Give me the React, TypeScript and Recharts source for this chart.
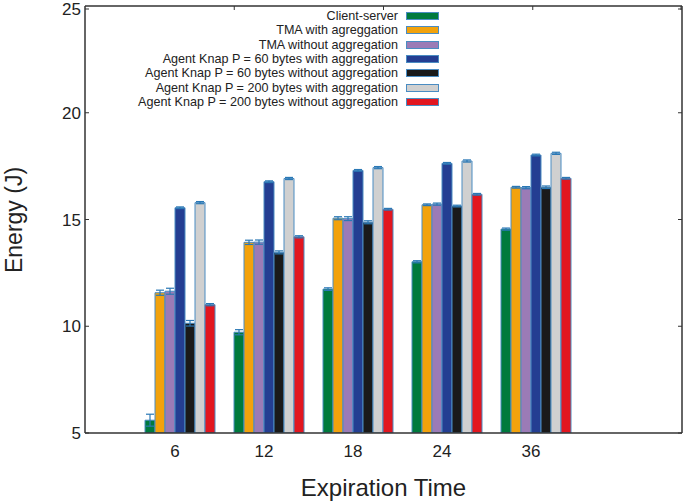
import React from "react";
import { Bar, BarChart, ErrorBar, Legend, XAxis, YAxis } from "recharts";

const categories = ["6", "12", "18", "24", "36"];

const clientServer = [5.6, 9.72, 11.74, 13.02, 14.55];
const tmaAgg = [11.57, 13.93, 15.06, 15.69, 16.51];
const tmaNoAgg = [11.64, 13.94, 15.04, 15.72, 16.49];
const knap60Agg = [15.55, 16.77, 17.3, 17.63, 18.02];
const knap60NoAgg = [10.14, 13.46, 14.87, 15.63, 16.51];
const knap200Agg = [15.79, 16.92, 17.43, 17.74, 18.1];
const knap200NoAgg = [11.01, 14.19, 15.48, 16.18, 16.93];

const clientServerErr = [0.28, 0.12, 0.06, 0.05, 0.05];
const tmaAggErr = [0.12, 0.1, 0.07, 0.04, 0.04];
const tmaNoAggErr = [0.14, 0.1, 0.09, 0.05, 0.05];
const knap60AggErr = [0.04, 0.04, 0.04, 0.04, 0.04];
const knap60NoAggErr = [0.13, 0.07, 0.07, 0.04, 0.06];
const knap200AggErr = [0.05, 0.05, 0.05, 0.05, 0.05];
const knap200NoAggErr = [0.05, 0.05, 0.04, 0.04, 0.04];

const yTicks = [5, 10, 15, 20, 25];
const topTicks = [1, 2, 3, 4, 5];

const series = [
  { key: "cs", name: "Client-server", values: clientServer, err: clientServerErr, color: "#007a3d" },
  { key: "tmaA", name: "TMA with agreggation", values: tmaAgg, err: tmaAggErr, color: "#f2a20c" },
  { key: "tmaN", name: "TMA without aggregation", values: tmaNoAgg, err: tmaNoAggErr, color: "#9b7bb6" },
  { key: "k60A", name: "Agent Knap P = 60 bytes with aggregation", values: knap60Agg, err: knap60AggErr, color: "#243e92" },
  { key: "k60N", name: "Agent Knap P = 60 bytes without aggregation", values: knap60NoAgg, err: knap60NoAggErr, color: "#1a1a1a" },
  { key: "k200A", name: "Agent Knap P = 200 bytes with aggregation", values: knap200Agg, err: knap200AggErr, color: "#d0d0d0" },
  { key: "k200N", name: "Agent Knap P = 200 bytes without aggregation", values: knap200NoAgg, err: knap200NoAggErr, color: "#e2161f" },
];

const data = categories.map((c, i) => {
  const row: Record<string, string | number> = { cat: c };
  series.forEach((s) => {
    row[s.key] = s.values[i];
    row[s.key + "Err"] = s.err[i];
  });
  return row;
});

const FONT = "'Liberation Sans', Arial, sans-serif";
const AXIS = "#333333";
const OUTLINE = "#4a8cc2";
const PLOT_LEFT = 85;
const PLOT_RIGHT = 682;
const PLOT_TOP = 6;

function LeftTick({ x, y, payload }: any) {
  return (
    <g>
      <line x1={PLOT_LEFT} x2={PLOT_LEFT + 4} y1={y} y2={y} stroke={AXIS} strokeWidth={1} />
      <text x={x} y={y} dy={6} textAnchor="end" fontSize={17} fill="#222" fontFamily={FONT}>
        {payload.value}
      </text>
    </g>
  );
}

function RightTick({ y }: any) {
  return <line x1={PLOT_RIGHT - 4} x2={PLOT_RIGHT} y1={y} y2={y} stroke={AXIS} strokeWidth={1} />;
}

function TopTick({ x }: any) {
  return <line x1={x} x2={x} y1={PLOT_TOP} y2={PLOT_TOP + 4} stroke={AXIS} strokeWidth={1} />;
}

function EnergyLabel() {
  return (
    <text
      x={22}
      y={220}
      transform="rotate(-90 22 220)"
      textAnchor="middle"
      fontSize={23}
      fill="#222"
      fontFamily={FONT}
    >
      Energy (J)
    </text>
  );
}

function LegendBox() {
  return (
    <div style={{ fontFamily: FONT, fontSize: 12.6, color: "#222" }}>
      {series.map((s) => (
        <div key={s.key} style={{ display: "flex", justifyContent: "flex-end", alignItems: "center", height: 14.3 }}>
          <span style={{ marginRight: 8, whiteSpace: "nowrap" }}>{s.name}</span>
          <span
            style={{
              display: "inline-block",
              width: 31,
              height: 6,
              background: s.color,
              border: `1px solid ${OUTLINE}`,
            }}
          />
        </div>
      ))}
    </div>
  );
}

export default function App() {
  return (
    <div style={{ width: 685, height: 501 }}>
      <style>{"body{margin:0}"}</style>
      <BarChart
        width={685}
        height={501}
        data={data}
        margin={{ top: PLOT_TOP - 1, right: 685 - PLOT_RIGHT - 1, left: 25, bottom: 0 }}
        barCategoryGap={10}
        barGap={0}
      >
        <XAxis
          dataKey="cat"
          height={68}
          padding={{ left: 50, right: 102 }}
          tickLine={false}
          tickSize={0}
          tickMargin={12}
          axisLine={{ stroke: AXIS, strokeWidth: 1.5 }}
          tick={{ fontSize: 17, fill: "#222", fontFamily: FONT, dx: -4.5 }}
          label={{ value: "Expiration Time", position: "insideBottom", offset: 5, fontSize: 24, fill: "#222", fontFamily: FONT }}
        />
        <XAxis
          xAxisId="top"
          orientation="top"
          type="number"
          domain={[0, 6]}
          allowDataOverflow
          ticks={topTicks}
          height={1}
          tickLine={false}
          tickSize={0}
          axisLine={{ stroke: AXIS, strokeWidth: 1.5 }}
          tick={<TopTick />}
        />
        <YAxis
          width={60}
          domain={[5, 25]}
          ticks={yTicks}
          allowDataOverflow
          tickLine={false}
          tickSize={0}
          tickMargin={4}
          axisLine={{ stroke: AXIS, strokeWidth: 1.5 }}
          tick={<LeftTick />}
          label={<EnergyLabel />}
        />
        <YAxis
          yAxisId="right"
          orientation="right"
          width={1}
          domain={[5, 25]}
          allowDataOverflow
          ticks={yTicks}
          tickLine={false}
          tickSize={0}
          axisLine={{ stroke: AXIS, strokeWidth: 1.5 }}
          tick={<RightTick />}
        />
        <Legend
          layout="horizontal"
          verticalAlign="middle"
          content={<LegendBox />}
          wrapperStyle={{ top: 9, left: 100, width: 339, height: 102 }}
        />
        {series.map((s) => (
          <Bar
            key={s.key}
            dataKey={s.key}
            name={s.name}
            fill={s.color}
            stroke={OUTLINE}
            strokeWidth={1}
            isAnimationActive={false}
          >
            <ErrorBar dataKey={s.key + "Err"} width={4} stroke="#2a78b5" strokeWidth={1.2} />
          </Bar>
        ))}
      </BarChart>
    </div>
  );
}
